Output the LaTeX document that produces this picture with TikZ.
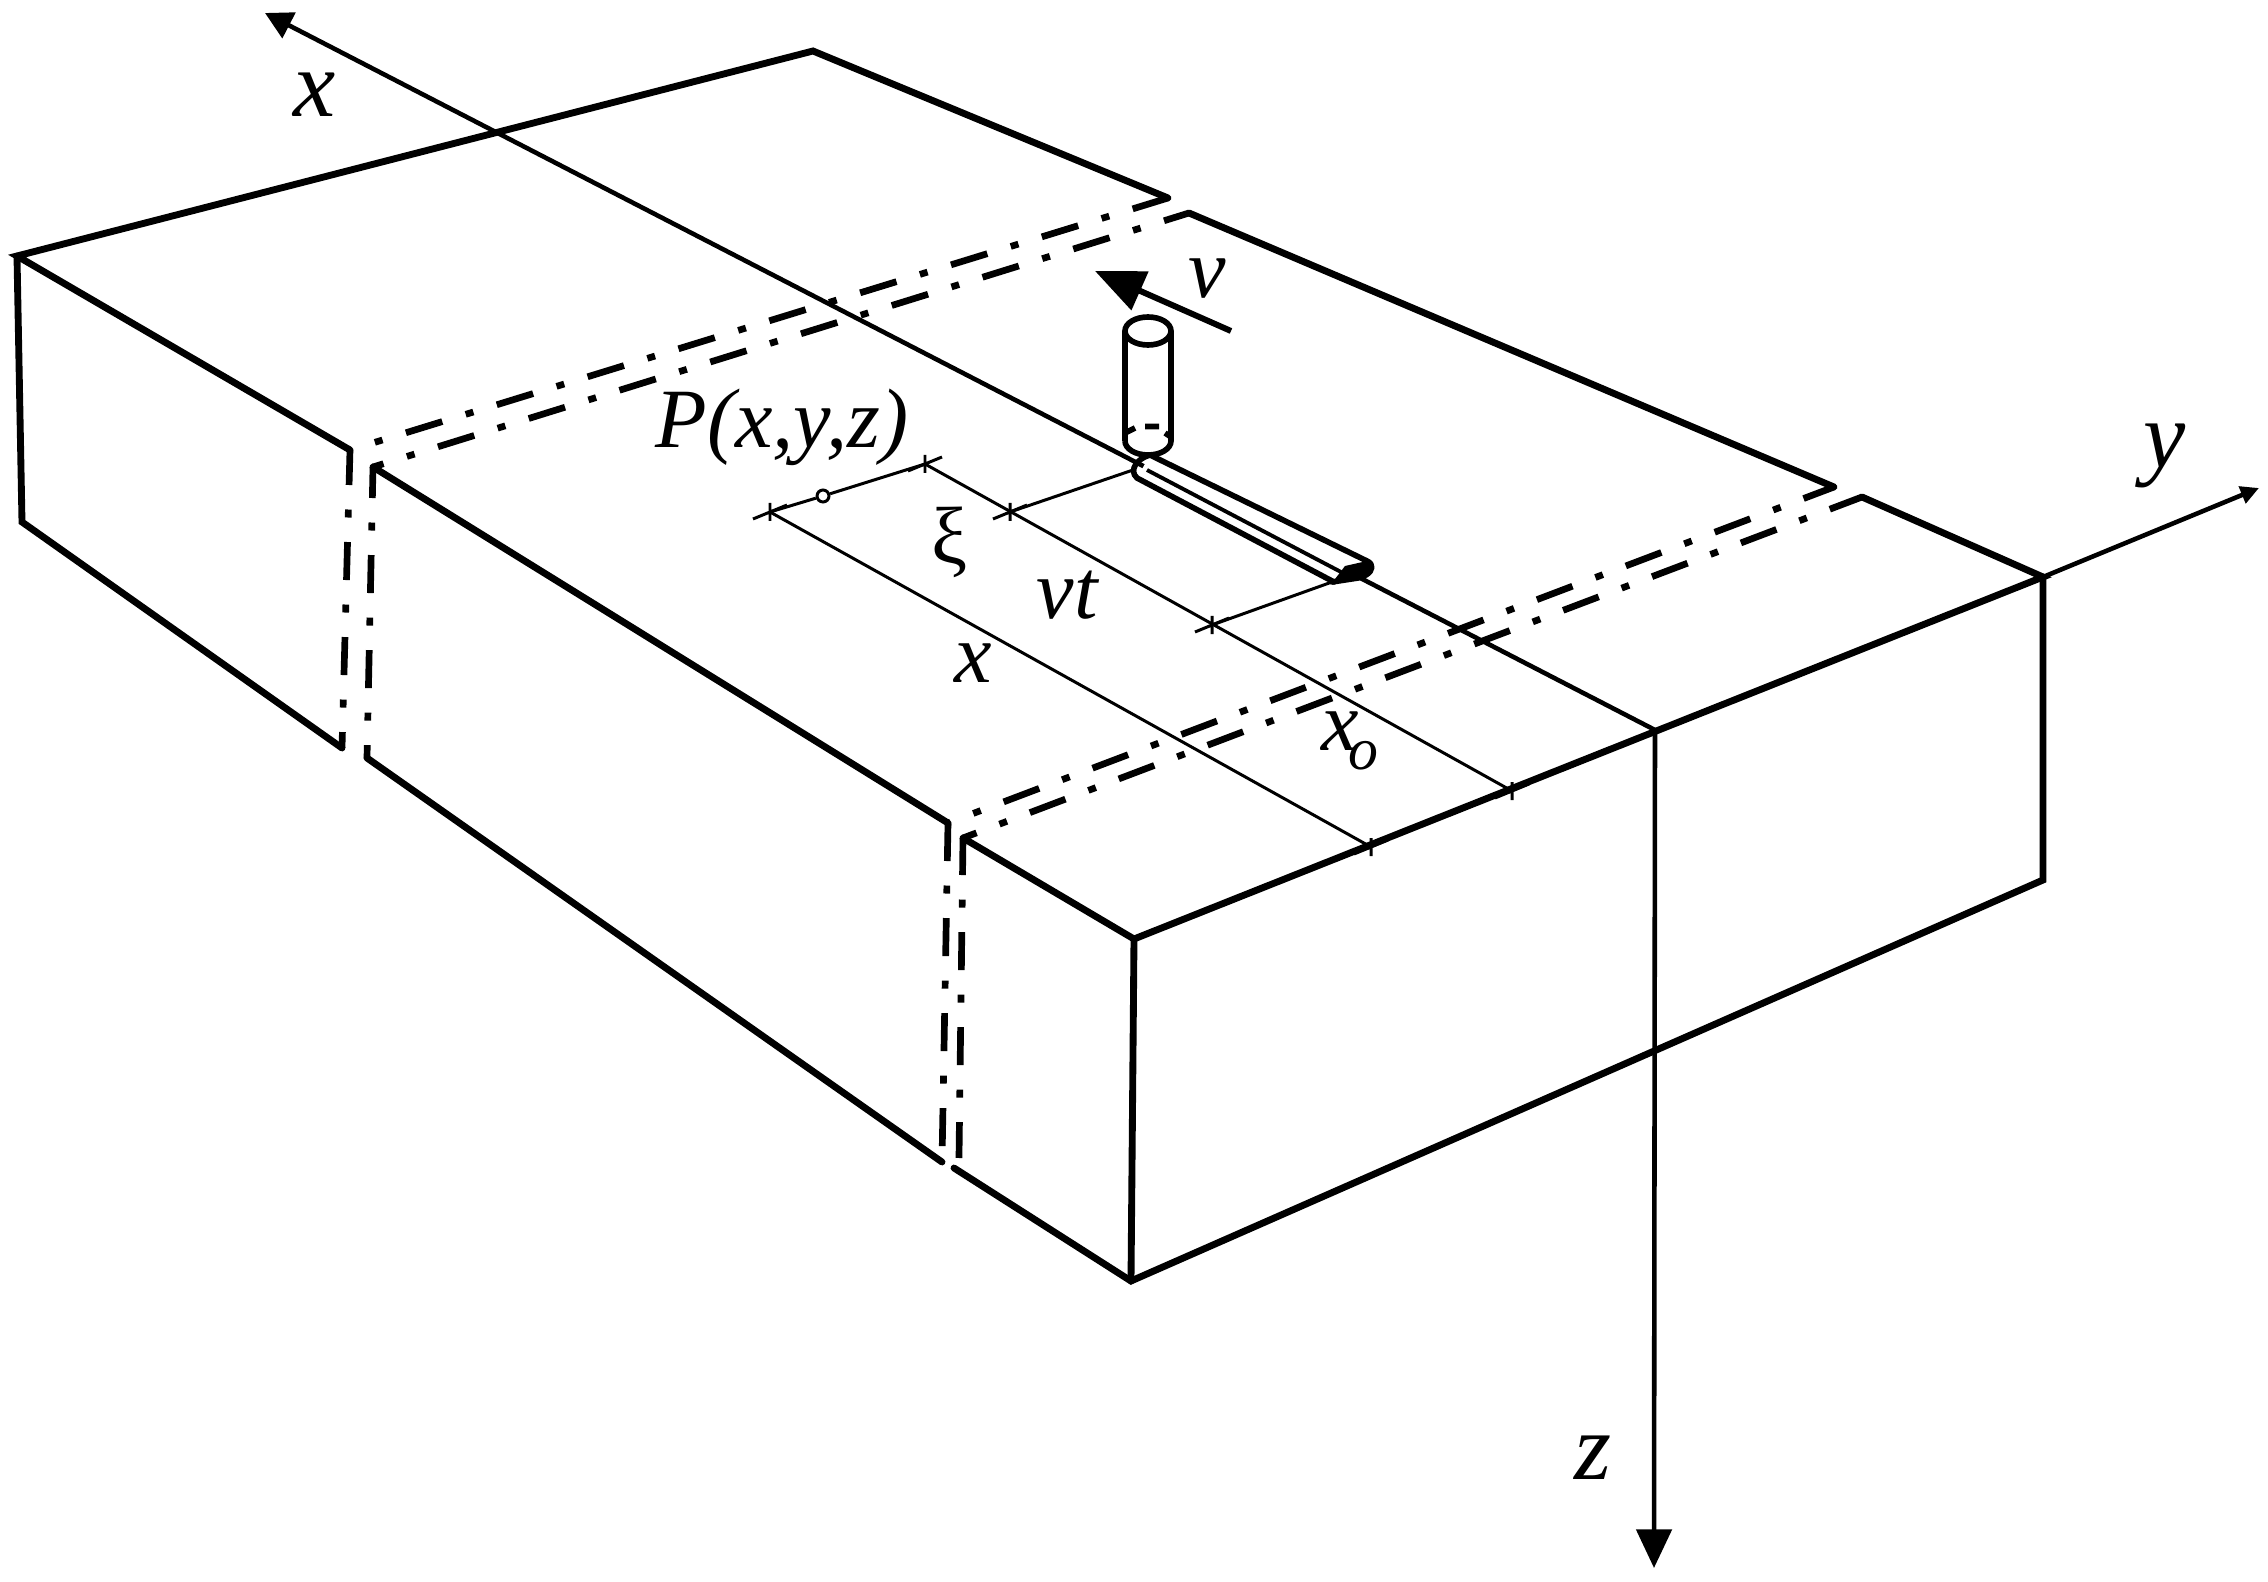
\documentclass[tikz,border=0pt]{standalone}
\usepackage{fontspec}
\setmainfont{Liberation Serif}
\usetikzlibrary{arrows.meta}
\begin{document}
\begin{tikzpicture}[x=0.01cm,y=-0.01cm,
  thickedge/.style={line width=1.95pt,line cap=round,line join=miter},
  medline/.style={line width=1.3pt},
  thinline/.style={line width=0.85pt},
  grooveline/.style={line width=1.6pt,line cap=round,line join=round},
  toolline/.style={line width=1.6pt},
  dd/.style={line width=1.9pt,dash pattern=on 3.8mm off 2.45mm on 0.8mm off 2.45mm},
  lab/.style={font=\fontsize{24}{28}\selectfont\itshape,inner sep=0pt},
  biglab/.style={font=\fontsize{27}{30}\selectfont\itshape,inner sep=0pt},
  dimtick/.pic={\draw[thinline] (-17,7)--(17,-7) (0,-9)--(0,9);}]
\useasboundingbox (0,0) rectangle (2268,1582);
% key points
\coordinate (aT) at (350,450); \coordinate (aB) at (342,748);
\coordinate (bT) at (373,467); \coordinate (bB) at (367,758);
\coordinate (cT) at (948,823); \coordinate (cB) at (942,1162);
\coordinate (dT) at (963,838); \coordinate (dB) at (954,1168); \coordinate (dE) at (959,1158);
\coordinate (fT) at (1134,939); \coordinate (fB) at (1131,1281);
\coordinate (rT) at (2043,577); \coordinate (rB) at (2043,880);
\coordinate (lT) at (17,256); \coordinate (lB) at (22,522);
\coordinate (bk) at (813,51); \coordinate (g1) at (1168,198); \coordinate (g2) at (1189,213);
\coordinate (h1) at (1834,487); \coordinate (h2) at (1862,497);
\coordinate (xt) at (265,13); \coordinate (o) at (1655,730);
\coordinate (yt) at (2259,488); \coordinate (zt) at (1654,1568);
% solid edges
\draw[thickedge] (aT)--(lT)--(bk)--(g1);
\draw[thickedge] (aB)--(lB)--(lT);
\draw[thickedge] (bT)--(cT);
\draw[thickedge] (bB)--(cB);
\draw[thickedge] (dT)--(fT)--(rT)--(h2);
\draw[thickedge] (g2)--(h1);
\draw[thickedge] (dB)--(fB)--(rB)--(rT);
\draw[thickedge] (fT)--(fB);
% dash-dot breaks
\draw[dd,dash phase=3.65mm] (aT)--(g1);
\draw[dd,dash phase=2.7mm] (bT)--(g2);
\draw[dd,dash phase=3.55mm] (cT)--(h1);
\draw[dd,dash phase=2.35mm] (dT)--(h2);
\draw[dd,dash phase=0.3mm] (aT)--(aB);
\draw[dd,dash phase=0.7mm] (bT)--(bB);
\draw[dd] (cT)--(cB);
\draw[dd,dash phase=0.1mm] (dT)--(dE);
% axes
\draw[medline,-{Triangle[length=7.7pt,width=8pt]}] (o)--(xt);
\draw[medline,-{Triangle[length=5.2pt,width=5pt]}] (rT)--(yt);
\draw[medline,-{Triangle[length=11pt,width=10pt]}] (o)--(zt);
% dimension lines
\coordinate (p1) at (770,512); \coordinate (p2) at (925,464);
\coordinate (p3) at (1010,512); \coordinate (p4) at (1212,625);
\coordinate (e1) at (1371,847); \coordinate (e2) at (1512,791);
\coordinate (w1) at (1133,470); \coordinate (w2) at (1332,582);
\draw[thinline] (p1)--(e1) (p2)--(e2) (p3)--(w1) (p4)--(w2);
\node[circle,draw,fill=white,line width=0.85pt,minimum size=3.4pt,inner sep=0pt] (pp) at (823,496) {};
\draw[thinline] (p1)--(pp) (pp)--(p2);
\path (p1) pic {dimtick} (p2) pic {dimtick} (p3) pic {dimtick} (p4) pic {dimtick} (e1) pic {dimtick} (e2) pic {dimtick};
% groove
\fill[white] (1150,455)--(1367,561)--(1332,582)--(1137,478)--cycle;
\fill[black] (1345,566)--(1367,561) .. controls (1374,564) and (1373,571) .. (1366,575)--(1358,578)--(1332,583)--cycle;
\draw[grooveline] (1150,455)--(1367,561) .. controls (1374,564) and (1373,571) .. (1366,575)--(1358,578)--(1332,582);
\draw[grooveline] (1150,455) .. controls (1138,458) and (1128,470) .. (1137,478)--(1334,582);
\draw[thinline,line width=1.1pt] (1147,470)--(1341,572);
% tool
\coordinate (c1) at (1125,331); \coordinate (c2) at (1171,331);
\coordinate (c3) at (1125,441); \coordinate (c4) at (1171,441);
\draw[toolline,fill=white] (c3)--(c1) arc[start angle=180,end angle=360,x radius=23,y radius=14]--(c4) arc[start angle=0,end angle=180,x radius=23,y radius=14];
\draw[toolline] (c1) arc[start angle=180,end angle=0,x radius=23,y radius=14];
\draw[toolline] (1125,433)--(1135,428) (1145,426.5)--(1159,426.5) (1165,433)--(1171,437);
% feed arrow
\coordinate (v1) at (1231,331); \coordinate (v2) at (1095,271);
\draw[line width=1.7pt,-{Triangle[length=14pt,width=11.7pt]}] (v1)--(v2);
% labels
\node[biglab] (lx) at (315,95) {x};
\node[biglab] (ly) at (2165,456) {y};
\node[biglab] (lz) at (1593,1458) {z};
\node[lab] (lv) at (1207,279) {v};
\node[lab] (lP) at (782,427) {P(x,y,z)};
\node[font=\fontsize{23}{26}\selectfont,inner sep=0pt] (lxi) at (950,542) {ξ};
\node[lab] (lvt) at (1067,595) {vt};
\node[lab] (lx2) at (973,663) {x};
\node[lab] (lxo) at (1350,741) {x\kern-0.12em\raisebox{-0.22em}{\fontsize{17}{20}\selectfont o}};
\end{tikzpicture}
\end{document}
